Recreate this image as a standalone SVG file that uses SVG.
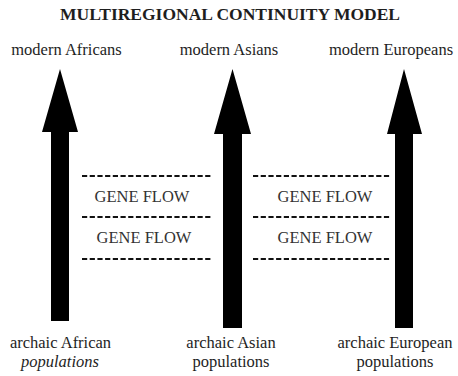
<svg xmlns="http://www.w3.org/2000/svg" width="458" height="376" viewBox="0 0 458 376">
<style>
text{font-family:"Liberation Serif","Times New Roman",serif;fill:#1e1e1e;text-anchor:middle}
.t{font-weight:bold;font-size:17.5px}
.l{font-size:16.5px}
.g{font-size:16.5px;fill:#333}
.d{stroke:#111;stroke-width:2;stroke-dasharray:5.2 2.5;fill:none}
.a{fill:#000}
</style>
<rect width="458" height="376" fill="#fff"/>
<text class="t" x="230" y="20">MULTIREGIONAL CONTINUITY MODEL</text>
<g id="africans">
<text class="l" x="66.5" y="55">modern Africans</text>
<path class="a" d="M60,69 L78,132 L69,132 L69,321 L51,321 L51,132 L42,132 Z"/>
<text class="l" x="60.5" y="348">archaic African</text>
<text class="l" x="60" y="367" font-style="italic">populations</text>
</g>
<g id="asians">
<text class="l" x="229" y="55">modern Asians</text>
<path class="a" d="M232.5,69 L251,134 L242,134 L242,328 L223,328 L223,134 L214,134 Z"/>
<text class="l" x="231" y="348">archaic Asian</text>
<text class="l" x="231" y="367">populations</text>
</g>
<g id="europeans">
<text class="l" x="391" y="55">modern Europeans</text>
<path class="a" d="M404,69 L422,134 L413,134 L413,328 L395,328 L395,134 L387,134 Z"/>
<text class="l" x="395" y="348">archaic European</text>
<text class="l" x="395" y="367">populations</text>
</g>
<g id="connectors">
<line class="d" x1="82" y1="176" x2="212" y2="176"/>
<line class="d" x1="82" y1="217" x2="212" y2="217"/>
<line class="d" x1="82" y1="259" x2="212" y2="259"/>
<line class="d" x1="253" y1="176" x2="390" y2="176"/>
<line class="d" x1="253" y1="217" x2="390" y2="217"/>
<line class="d" x1="253" y1="259" x2="390" y2="259"/>
<text class="g" x="142" y="202">GENE FLOW</text>
<text class="g" x="144" y="243">GENE FLOW</text>
<text class="g" x="325" y="202">GENE FLOW</text>
<text class="g" x="325" y="243">GENE FLOW</text>
</g>
</svg>
